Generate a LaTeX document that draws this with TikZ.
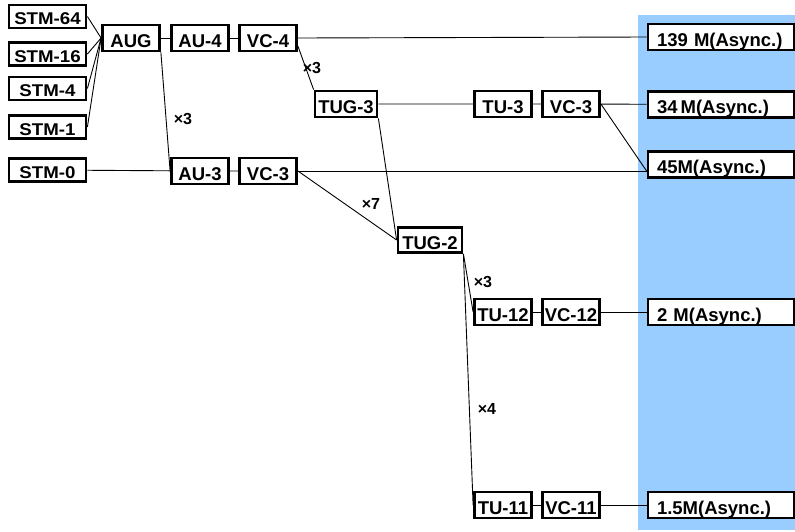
\documentclass[tikz,border=0pt]{standalone}
\usepackage{fontspec}
\setmainfont{Liberation Sans}
\newfontfamily\stmfont{Liberation Sans}[FakeStretch=1.1]
\usetikzlibrary{calc}
\definecolor{panelblue}{RGB}{153,204,255}

\begin{document}
\begin{tikzpicture}[x=1pt, y=-1pt,
  box/.style={draw, line width=2.8pt, fill=white, inner sep=0pt,
    minimum width=57pt, minimum height=26pt, text height=18.5pt, text depth=0pt,
    font=\fontsize{18.5}{20}\selectfont\bfseries},
  stm/.style={box, minimum width=77pt, minimum height=23pt, text height=16pt,
    font=\stmfont\fontsize{17}{18}\selectfont\bfseries},
  rate/.style={box, minimum width=146pt, text width=128pt, align=left},
  link/.style={line width=0.9pt},
  mult/.style={font=\fontsize{16}{18}\selectfont\bfseries}]
  \useasboundingbox (0,0) rectangle (795,531);
  \fill[panelblue] (638,15) rectangle (800,530);
  % sources
  \node[stm] (stm64) at (47.5,16.5) {STM-64};
  \node[stm] (stm16) at (47.5,54) {STM-16};
  \node[stm] (stm4) at (47.5,88.5) {STM-4};
  \node[stm] (stm1) at (47.5,127) {STM-1};
  \node[stm] (stm0) at (47.5,170) {STM-0};
  % multiplexing chain
  \node[box] (aug) at (131,38) {AUG};
  \node[box] (au4) at (200,38) {AU-4};
  \node[box] (vc4) at (268,38) {VC-4};
  \node[box] (au3) at (200,171) {AU-3};
  \node[box] (vc3a) at (268,171) {VC-3};
  \node[box, minimum width=62pt] (tug3) at (346,104) {TUG-3};
  \node[box, minimum width=64pt, minimum height=25pt] (tug2) at (430,240) {TUG-2};
  \node[box] (tu3) at (503,104) {TU-3};
  \node[box] (vc3b) at (571,104) {VC-3};
  \node[box] (tu12) at (503,312) {TU-12};
  \node[box] (vc12) at (571,312) {VC-12};
  \node[box] (tu11) at (503,505) {TU-11};
  \node[box] (vc11) at (571,505) {VC-11};
  % tributaries
  \node[rate] (m139) at (721,37) {139 M(Async.)};
  \node[rate] (m34) at (721,104.5) {34\,M(Async.)};
  \node[rate] (m45) at (721,164.5) {45M(Async.)};
  \node[rate] (m2) at (721,312) {2 M(Async.)};
  \node[rate] (m15) at (721,505) {1.5M(Async.)};
  % connectors
  \begin{scope}[link]
    \foreach \s in {stm64, stm16, stm4, stm1}
      \draw (\s.east) -- (aug.west);
    \draw (aug) -- (au4) -- (vc4);
    \draw (vc4.east) -- (m139.west);
    \draw (vc4.-15) -- (tug3.north west);
    \draw (aug.south east) -- (au3.west);
    \draw (stm0) -- (au3) -- (vc3a);
    \coordinate (in45) at (m45.west |- vc3a.east);
    \draw (vc3a.east) -- (in45);
    \draw (vc3a.east) -- (tug2.west);
    \draw (tug3.south east) -- (tug2.west);
    \draw (tug3) -- (tu3) -- (vc3b) -- (m34);
    \draw (vc3b.east) -- (in45);
    \draw (tug2.south east) -- (tu12.west);
    \draw (tug2.south east) -- (tu11.west);
    \draw (tu12) -- (vc12) -- (m2);
    \draw (tu11) -- (vc11) -- (m15);
  \end{scope}
  % multiplicities
  \node[mult] at (312,68) {×3};
  \node[mult] at (183,119) {×3};
  \node[mult] at (371,204) {×7};
  \node[mult] at (483,282) {×3};
  \node[mult] at (487,409) {×4};
\end{tikzpicture}
\end{document}
